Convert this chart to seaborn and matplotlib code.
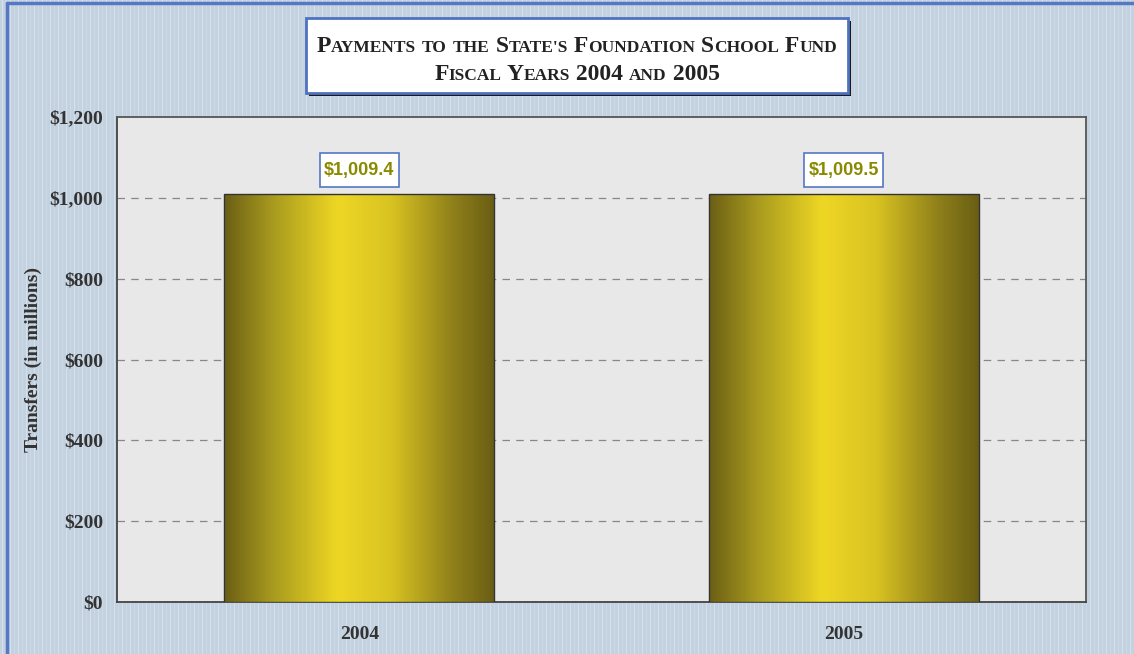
import numpy as np
import pandas as pd
import matplotlib
matplotlib.use('Agg')
import matplotlib.pyplot as plt
import seaborn as sns
from matplotlib.patches import Rectangle
from matplotlib.colors import LinearSegmentedColormap

# data
years = ['2004', '2005']
transfers = [1009.4, 1009.5]
label_texts = ['$1,009.4', '$1,009.5']
y_ticks = [0, 200, 400, 600, 800, 1000, 1200]
title_lines = ["Payments to the State's Foundation School Fund", 'Fiscal Years 2004 and 2005']

df = pd.DataFrame({'year': years, 'transfers': transfers})

sns.set_style('white')
plt.rcParams['font.family'] = ['Liberation Serif', 'DejaVu Serif']

fig = plt.figure(figsize=(11.34, 6.54), dpi=100)
fig.patch.set_facecolor('#c6d4e3')

# faint vertical stripes in the background
bg = fig.add_axes([0, 0, 1, 1], zorder=-10)
stripe = np.tile([0.0, 0.0, 1.0, 0.0, 0.0, 0.0, 0.5, 0.0], 142)[:1134]
bg.imshow(stripe[None, :], aspect='auto', cmap=LinearSegmentedColormap.from_list(
    'bgc', ['#c4d1df', '#d3e1ef']), extent=[0, 1, 0, 1], interpolation='nearest')
bg.set_axis_off()
# blue border top/left
fig.add_artist(plt.Line2D([0.006, 0.006], [0, 0.995], color='#5577c4', lw=2.5, transform=fig.transFigure))
fig.add_artist(plt.Line2D([0.006, 1], [0.995, 0.995], color='#5577c4', lw=2.5, transform=fig.transFigure))

ax = fig.add_axes([117 / 1134, 1 - 602 / 654, 969 / 1134, 485 / 654])
ax.set_facecolor('#e8e8e8')

sns.barplot(data=df, x='year', y='transfers', width=0.557, color='#e0c820',
            edgecolor='#333333', linewidth=1.0, ax=ax, zorder=3)

# horizontal gradient inside each bar
grad_cmap = LinearSegmentedColormap.from_list(
    'gold', [(0.0, '#6b5f15'), (0.18, '#a89a1e'), (0.42, '#eed724'),
             (0.62, '#d9c322'), (0.85, '#8f801a'), (1.0, '#6a5e14')])
gradient = np.linspace(0, 1, 256)[None, :]
for p in ax.patches:
    x0, y0 = p.get_x(), p.get_y()
    im = ax.imshow(gradient, aspect='auto', cmap=grad_cmap,
                   extent=[x0, x0 + p.get_width(), y0, y0 + p.get_height()], zorder=3)
    im.set_clip_path(p)
    p.set_facecolor('none')
    p.set_zorder(4)

ax.set_xlim(-0.5, 1.5)
ax.set_ylim(0, 1200)
ax.set_yticks(y_ticks)
ax.set_yticklabels(['${:,}'.format(v) for v in y_ticks], fontsize=14, fontweight='bold', color='#333333')
ax.set_xticks([0, 1])
ax.set_xticklabels(years, fontsize=14, fontweight='bold', color='#333333')
ax.set_xticks([0.5, 1.5], minor=True)
ax.tick_params(axis='x', which='major', length=0, pad=17)
ax.tick_params(axis='x', which='minor', length=5, direction='out', color='#333333')
ax.tick_params(axis='y', length=6, direction='inout', color='#333333', pad=7)
ax.set_xlabel('')
ax.set_ylabel('Transfers (in millions)', fontsize=14, fontweight='bold', color='#333333', labelpad=5)

for yv in y_ticks[1:-1]:
    ax.axhline(yv, color='#888888', lw=0.9, ls=(0, (6, 5)), zorder=1)

for s in ['left', 'bottom', 'right', 'top']:
    ax.spines[s].set_visible(True)
    ax.spines[s].set_color('#444444')
    ax.spines[s].set_linewidth(1.3)
ax.spines['right'].set_color('#555555')
ax.spines['top'].set_color('#555555')

# value labels in white boxes above each bar
box_w, box_h, box_gap = 0.163, 84, 17
for i, (v, t) in enumerate(zip(transfers, label_texts)):
    ax.add_patch(Rectangle((i - box_w / 2, v + box_gap), box_w, box_h, fc='white',
                           ec='#5577c4', lw=1.2, zorder=6))
    ax.text(i, v + box_gap + box_h / 2, t, ha='center', va='center', fontsize=13,
            fontweight='bold', color='#8a8a00', family=['Liberation Sans', 'DejaVu Sans'], zorder=7)

# title box with shadow
bx0, by0, bw, bh = 306 / 1134, 1 - 93 / 654, 542 / 1134, 75 / 654
fig.add_artist(Rectangle((bx0 + 0.003, by0 - 0.005), bw, bh, transform=fig.transFigure,
                         fc='#1a1a1a', ec='none', zorder=5))
fig.add_artist(Rectangle((bx0, by0), bw, bh, transform=fig.transFigure,
                         fc='white', ec='#4f72c0', lw=2, zorder=6))


def small_caps(line, xc, yc, big=17, small=12.5):
    # split into runs: lowercase letters (and punctuation after them) become small capitals
    runs = []
    for ch in line:
        if ch.isalpha() or ch.isdigit() or ch == ' ':
            kind = ch.islower()
        else:
            kind = runs[-1][0] if runs else False
        if runs and runs[-1][0] == kind:
            runs[-1][1] += ch
        else:
            runs.append([kind, ch])
    renderer = fig.canvas.get_renderer()
    texts = []
    for kind, s in runs:
        t = fig.text(0, yc, s.upper(), fontsize=small if kind else big, fontweight='bold',
                     color='#222222', va='baseline', ha='left', zorder=7)
        texts.append(t)
    widths = [t.get_window_extent(renderer).width / fig.bbox.width for t in texts]
    x = xc - sum(widths) / 2
    for t, w in zip(texts, widths):
        t.set_x(x)
        x += w


small_caps(title_lines[0], bx0 + bw / 2, 1 - 52 / 654)
small_caps(title_lines[1], bx0 + bw / 2, 1 - 80 / 654)

fig.savefig('out.png', dpi=100, facecolor=fig.get_facecolor())
